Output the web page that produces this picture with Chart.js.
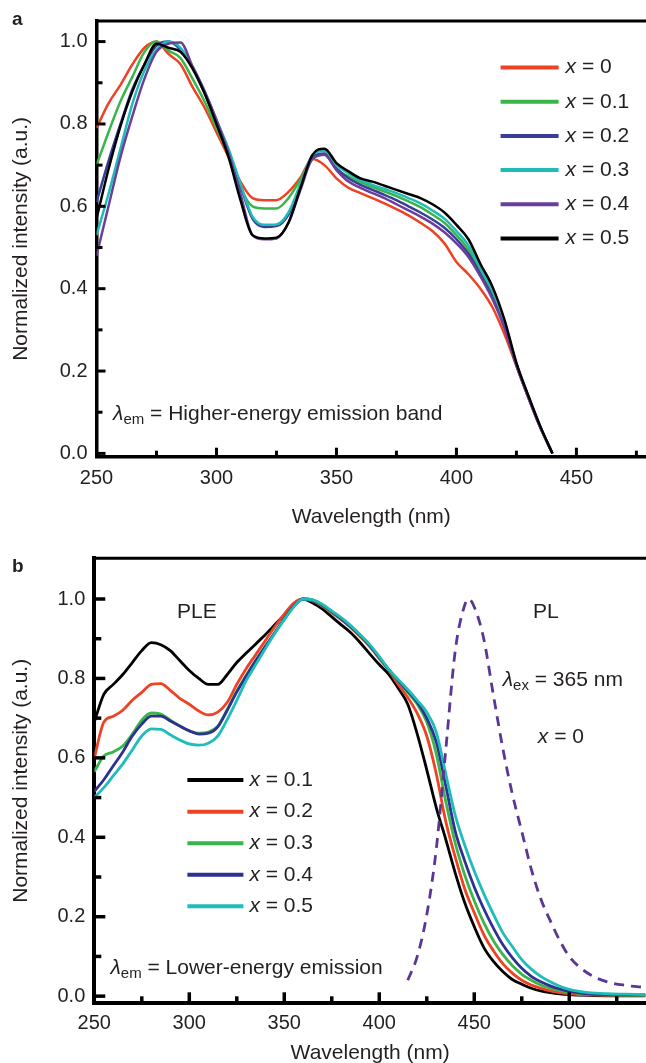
<!DOCTYPE html>
<html lang="en">
<head>
<meta charset="UTF-8">
<title>Normalized PLE spectra</title>
<script src="https://cdn.jsdelivr.net/npm/chart.js@4.4.1/dist/chart.umd.min.js"></script>
<style>
    html, body { margin: 0; padding: 0; background: #fff; overflow: hidden; }
    .panel { position: absolute; left: 0; width: 646px; }
    #panelA { top: 0; height: 535px; }
    #panelB { top: 530px; height: 545px; }
</style>
</head>
<body>
<div class="panel" id="panelA"><canvas id="chartA"></canvas></div>
<div class="panel" id="panelB"><canvas id="chartB"></canvas></div>

<script>
// ---- panel a : excitation spectra, higher-energy emission band ----
const wavelengthA = [250, 255, 260, 265, 270, 275, 280, 285, 290, 295, 300, 305, 310, 315, 320, 325, 330, 335, 340, 345,
    350, 355, 360, 365, 370, 375, 380, 385, 390, 395, 400, 405, 410, 415, 420, 425, 430, 435, 440];
const labelsA = ['x = 0', 'x = 0.1', 'x = 0.2', 'x = 0.3', 'x = 0.4', 'x = 0.5'];
const pleA_x0 = [0.79, 0.85, 0.895, 0.945, 0.985, 1.0, 0.97, 0.945, 0.89, 0.84, 0.78,
    0.72, 0.66, 0.62, 0.615, 0.615, 0.635, 0.67, 0.715, 0.70, 0.668,
    0.645, 0.632, 0.62, 0.607, 0.593, 0.578, 0.56, 0.54, 0.51, 0.465,
    0.435, 0.40, 0.355, 0.29, 0.212, 0.135, 0.062, 0.0];
const pleA_x01 = [0.70, 0.78, 0.855, 0.915, 0.975, 1.0, 0.978, 0.96, 0.91, 0.855, 0.79,
    0.725, 0.645, 0.60, 0.595, 0.595, 0.62, 0.665, 0.715, 0.725, 0.69,
    0.672, 0.658, 0.647, 0.636, 0.625, 0.612, 0.598, 0.58, 0.56, 0.53,
    0.495, 0.44, 0.385, 0.315, 0.216, 0.137, 0.063, 0.0];
const pleA_x02 = [0.61, 0.71, 0.80, 0.885, 0.945, 0.99, 1.0, 0.98, 0.935, 0.875, 0.805,
    0.735, 0.65, 0.57, 0.55, 0.552, 0.58, 0.65, 0.72, 0.728, 0.692,
    0.668, 0.652, 0.64, 0.628, 0.615, 0.60, 0.585, 0.568, 0.548, 0.52,
    0.485, 0.435, 0.38, 0.31, 0.215, 0.136, 0.063, 0.0];
const pleA_x03 = [0.53, 0.63, 0.74, 0.85, 0.93, 0.98, 1.0, 0.985, 0.94, 0.88, 0.81,
    0.74, 0.655, 0.575, 0.555, 0.556, 0.585, 0.655, 0.725, 0.735, 0.70,
    0.68, 0.663, 0.652, 0.642, 0.632, 0.62, 0.607, 0.59, 0.57, 0.54,
    0.505, 0.45, 0.395, 0.32, 0.218, 0.138, 0.064, 0.0];
const pleA_x04 = [0.48, 0.60, 0.72, 0.82, 0.91, 0.975, 0.995, 0.998, 0.94, 0.88, 0.81,
    0.73, 0.63, 0.53, 0.52, 0.522, 0.56, 0.64, 0.715, 0.725, 0.688,
    0.66, 0.645, 0.632, 0.62, 0.605, 0.59, 0.575, 0.558, 0.537, 0.51,
    0.477, 0.43, 0.375, 0.305, 0.213, 0.135, 0.062, 0.0];
const pleA_x05 = [0.57, 0.69, 0.795, 0.88, 0.945, 0.995, 0.985, 0.975, 0.935, 0.875, 0.80,
    0.72, 0.615, 0.53, 0.522, 0.524, 0.56, 0.645, 0.725, 0.74, 0.705,
    0.685, 0.668, 0.66, 0.65, 0.64, 0.63, 0.62, 0.605, 0.585, 0.555,
    0.52, 0.46, 0.405, 0.325, 0.22, 0.14, 0.065, 0.0];

// ---- panel b : PLE (lower-energy emission) and PL of x = 0 ----
const wavelengthB = [250, 255, 260, 265, 270, 275, 280, 285, 290, 295, 300, 305, 310, 315, 320, 325, 330, 335, 340, 345,
    350, 355, 360, 365, 370, 375, 380, 385, 390, 395, 400, 405, 410, 415, 420, 425, 430, 435, 440, 445,
    450, 455, 460, 465, 470, 475, 480, 485, 490, 495, 500, 510, 520, 530, 540];
const labelsB = ['x = 0.1', 'x = 0.2', 'x = 0.3', 'x = 0.4', 'x = 0.5'];
const pleB_x01 = [0.69, 0.76, 0.785, 0.81, 0.84, 0.87, 0.89, 0.885, 0.87, 0.845, 0.82,
    0.80, 0.785, 0.785, 0.81, 0.84, 0.864, 0.887, 0.91, 0.935, 0.96,
    0.985, 1.0, 0.99, 0.975, 0.955, 0.935, 0.915, 0.89, 0.862, 0.835,
    0.81, 0.775, 0.735, 0.66, 0.57, 0.475, 0.395, 0.31, 0.235, 0.175,
    0.123, 0.088, 0.062, 0.042, 0.03, 0.02, 0.013, 0.009, 0.006, 0.004,
    0.002, 0.001, 0.001, 0.001];
const pleB_x02 = [0.60, 0.69, 0.705, 0.72, 0.745, 0.765, 0.785, 0.787, 0.77, 0.75, 0.735,
    0.718, 0.708, 0.715, 0.74, 0.785, 0.825, 0.86, 0.895, 0.93, 0.962,
    0.99, 1.0, 0.995, 0.982, 0.965, 0.948, 0.928, 0.905, 0.88, 0.85,
    0.82, 0.785, 0.752, 0.712, 0.655, 0.56, 0.44, 0.35, 0.27, 0.21,
    0.155, 0.115, 0.082, 0.058, 0.04, 0.028, 0.02, 0.013, 0.009, 0.006,
    0.003, 0.002, 0.002, 0.002];
const pleB_x03 = [0.565, 0.605, 0.615, 0.63, 0.66, 0.695, 0.713, 0.71, 0.695, 0.68, 0.668,
    0.662, 0.665, 0.68, 0.722, 0.768, 0.808, 0.845, 0.88, 0.915, 0.95,
    0.982, 1.0, 0.997, 0.984, 0.967, 0.95, 0.93, 0.907, 0.882, 0.852,
    0.822, 0.793, 0.765, 0.735, 0.69, 0.61, 0.49, 0.385, 0.305, 0.24,
    0.185, 0.14, 0.105, 0.077, 0.055, 0.04, 0.028, 0.02, 0.014, 0.01,
    0.005, 0.003, 0.002, 0.002];
const pleB_x04 = [0.515, 0.545, 0.58, 0.615, 0.655, 0.685, 0.705, 0.705, 0.693, 0.68, 0.668,
    0.66, 0.662, 0.678, 0.72, 0.766, 0.806, 0.845, 0.88, 0.915, 0.95,
    0.982, 1.0, 0.997, 0.985, 0.968, 0.95, 0.93, 0.908, 0.883, 0.853,
    0.822, 0.795, 0.768, 0.74, 0.70, 0.64, 0.53, 0.415, 0.34, 0.275,
    0.22, 0.172, 0.13, 0.097, 0.07, 0.05, 0.036, 0.026, 0.018, 0.012,
    0.006, 0.004, 0.003, 0.003];
const pleB_x05 = [0.50, 0.525, 0.555, 0.585, 0.62, 0.655, 0.673, 0.672, 0.658, 0.645, 0.635,
    0.632, 0.637, 0.655, 0.697, 0.745, 0.795, 0.835, 0.875, 0.913, 0.948,
    0.98, 1.0, 0.998, 0.987, 0.97, 0.953, 0.933, 0.91, 0.885, 0.855,
    0.823, 0.797, 0.772, 0.745, 0.715, 0.665, 0.56, 0.455, 0.38, 0.315,
    0.258, 0.207, 0.16, 0.125, 0.092, 0.068, 0.05, 0.036, 0.025, 0.017,
    0.009, 0.006, 0.005, 0.004];
const wavelengthPL = [415, 420, 425, 430, 435, 440, 445, 447, 450, 455, 460, 465, 470, 475, 480, 485, 490, 495, 500, 510, 520, 530, 540];
const plB_x0 = [0.04, 0.10, 0.205, 0.37, 0.62, 0.87, 0.985, 1.0, 0.98, 0.9, 0.76, 0.625, 0.51, 0.415, 0.32, 0.245, 0.19, 0.14, 0.10, 0.057, 0.036, 0.027, 0.022];

// axis ticks
const xTicksA = [250, 300, 350, 400, 450];
const xMinorA = [275, 325, 375, 425, 475];
const xTicksB = [250, 300, 350, 400, 450, 500];
const xMinorB = [275, 325, 375, 425, 475, 525];
const yTicks = [0, 0.2, 0.4, 0.6, 0.8, 1.0];
const yMinor = [0.1, 0.3, 0.5, 0.7, 0.9];

const ink = '#231f20';
const fontFamily = '"Liberation Sans", Arial, Helvetica, sans-serif';

function points(xs, ys) {
    return xs.map((x, i) => ({ x: x, y: ys[i] }));
}

function line(label, xs, ys, color, order, width, dash) {
    return {
        label: label,
        data: points(xs, ys),
        borderColor: color,
        borderWidth: width,
        borderDash: dash || [],
        pointRadius: 0,
        cubicInterpolationMode: 'monotone',
        fill: false,
        order: order
    };
}

// text with italic / subscript pieces, y is the vertical middle
function drawRich(ctx, x, y, parts, align) {
    const fonts = {
        n: '21px ' + fontFamily,
        i: 'italic 21px ' + fontFamily,
        sub: '15px ' + fontFamily
    };
    let total = 0;
    parts.forEach(p => {
        ctx.font = fonts[p.s || 'n'];
        p.w = ctx.measureText(p.t).width;
        total += p.w;
    });
    let cx = align === 'center' ? x - total / 2 : x;
    ctx.textAlign = 'left';
    ctx.textBaseline = 'middle';
    ctx.fillStyle = ink;
    parts.forEach(p => {
        ctx.font = fonts[p.s || 'n'];
        ctx.fillText(p.t, cx, p.s === 'sub' ? y + 6 : y);
        cx += p.w;
    });
}

// frame top line, inward ticks, legend, notes and the panel letter
const decorPlugin = {
    id: 'decor',
    afterDraw(chart, args, o) {
        const ctx = chart.ctx;
        const area = chart.chartArea;
        const xs = chart.scales.x;
        const ys = chart.scales.y;
        ctx.save();
        ctx.setLineDash([]);
        ctx.strokeStyle = '#000';
        ctx.lineCap = 'butt';

        ctx.lineWidth = o.frameWidth;
        ctx.beginPath();
        ctx.moveTo(area.left - o.frameWidth / 2, area.top);
        ctx.lineTo(area.right, area.top);
        ctx.stroke();

        ctx.lineWidth = o.tickWidth;
        const tickX = (v, len) => {
            const px = xs.getPixelForValue(v);
            ctx.beginPath();
            ctx.moveTo(px, area.bottom);
            ctx.lineTo(px, area.bottom - len);
            ctx.stroke();
        };
        const tickY = (v, len) => {
            const py = ys.getPixelForValue(v);
            ctx.beginPath();
            ctx.moveTo(area.left, py);
            ctx.lineTo(area.left + len, py);
            ctx.stroke();
        };
        o.xMajor.forEach(v => tickX(v, o.majorLen));
        o.xMinor.forEach(v => tickX(v, o.minorLen));
        yTicks.forEach(v => tickY(v, o.majorLen));
        yMinor.forEach(v => tickY(v, o.minorLen));

        // legend
        const lg = o.legend;
        lg.items.forEach((di, k) => {
            const ds = chart.data.datasets[di];
            const px = xs.getPixelForValue(lg.x);
            const py = ys.getPixelForValue(lg.y - k * lg.step);
            ctx.strokeStyle = ds.borderColor;
            ctx.lineWidth = 4;
            ctx.beginPath();
            ctx.moveTo(px, py);
            ctx.lineTo(px + lg.len, py);
            ctx.stroke();
            drawRich(ctx, px + lg.len + lg.gap, py, [{ t: ds.label.charAt(0), s: 'i' }, { t: ds.label.slice(1) }], 'left');
        });

        // notes
        o.notes.forEach(n => {
            drawRich(ctx, xs.getPixelForValue(n.x), ys.getPixelForValue(n.y), n.parts, n.align);
        });

        // panel letter
        ctx.font = 'bold 19px ' + fontFamily;
        ctx.fillStyle = ink;
        ctx.textAlign = 'left';
        ctx.textBaseline = 'alphabetic';
        ctx.fillText(o.letter.t, o.letter.x, o.letter.y);
        ctx.restore();
    }
};

function makeScales(p) {
    return {
        x: {
            type: 'linear',
            min: p.xMin,
            max: p.xMax,
            grid: { display: false, drawTicks: false },
            border: { display: true, color: '#000', width: p.axisWidth },
            ticks: {
                color: ink,
                font: { family: fontFamily, size: 20 },
                padding: p.xTickPad,
                maxRotation: 0,
                autoSkip: false,
                callback: v => String(v)
            },
            title: {
                display: true,
                text: 'Wavelength (nm)',
                color: ink,
                font: { family: fontFamily, size: 21 },
                padding: { top: 0, bottom: p.xTitlePad }
            },
            afterBuildTicks: s => { s.ticks = p.xTicks.map(v => ({ value: v })); },
            afterFit: s => { s.height = p.xAxisHeight; }
        },
        y: {
            type: 'linear',
            min: p.yMin,
            max: p.yMax,
            grid: { display: false, drawTicks: false },
            border: { display: true, color: '#000', width: p.axisWidth },
            ticks: {
                color: ink,
                font: { family: fontFamily, size: 20 },
                padding: 9,
                callback: v => v.toFixed(1)
            },
            title: {
                display: true,
                text: 'Normalized intensity (a.u.)',
                color: ink,
                font: { family: fontFamily, size: 21 },
                padding: { top: 9, bottom: 0 }
            },
            afterBuildTicks: s => { s.ticks = yTicks.map(v => ({ value: v })); },
            afterFit: s => { s.width = p.yAxisWidth; }
        }
    };
}

// Panel a
new Chart(document.getElementById('chartA'), {
    type: 'line',
    data: {
        datasets: [
            line(labelsA[0], wavelengthA, pleA_x0, '#ef4123', 5, 2.5),
            line(labelsA[1], wavelengthA, pleA_x01, '#39b54a', 4, 2.5),
            line(labelsA[2], wavelengthA, pleA_x02, '#3a3e99', 3, 2.5),
            line(labelsA[3], wavelengthA, pleA_x03, '#1fbcb6', 2, 2.5),
            line(labelsA[4], wavelengthA, pleA_x04, '#6a3f9b', 1, 2.5),
            line(labelsA[5], wavelengthA, pleA_x05, '#000000', 0, 2.5)
        ]
    },
    options: {
        responsive: true,
        maintainAspectRatio: false,
        animation: false,
        layout: { padding: { top: 13.3, right: 0, bottom: 0, left: 0 } },
        scales: makeScales({
            xMin: 250, xMax: 479, yMin: -0.008, yMax: 1.05,
            xTicks: xTicksA, axisWidth: 3.5, xTickPad: 10, xTitlePad: 5.4,
            xAxisHeight: 78.3, yAxisWidth: 96.5
        }),
        plugins: {
            legend: { display: false },
            tooltip: { enabled: false },
            decor: {
                frameWidth: 3, tickWidth: 3, majorLen: 9, minorLen: 6,
                xMajor: xTicksA, xMinor: xMinorA,
                legend: { x: 418.4, y: 0.937, step: 0.083, len: 58, gap: 7, items: [0, 1, 2, 3, 4, 5] },
                notes: [
                    { x: 256.9, y: 0.096, align: 'left', parts: [{ t: '\u03bb', s: 'i' }, { t: 'em', s: 'sub' }, { t: ' = Higher-energy emission band' }] }
                ],
                letter: { t: 'a', x: 12, y: 25 }
            }
        }
    },
    plugins: [decorPlugin]
});

// Panel b
new Chart(document.getElementById('chartB'), {
    type: 'line',
    data: {
        datasets: [
            line(labelsB[0], wavelengthB, pleB_x01, '#000000', 5, 2.8),
            line(labelsB[1], wavelengthB, pleB_x02, '#ef4123', 4, 2.8),
            line(labelsB[2], wavelengthB, pleB_x03, '#39b54a', 3, 2.8),
            line(labelsB[3], wavelengthB, pleB_x04, '#2e3192', 2, 2.8),
            line(labelsB[4], wavelengthB, pleB_x05, '#1ebdb9', 1, 2.8),
            line('x = 0', wavelengthPL, plB_x0, '#5b3694', 0, 2.8, [10, 7])
        ]
    },
    options: {
        responsive: true,
        maintainAspectRatio: false,
        animation: false,
        layout: { padding: { top: 28.3, right: 0, bottom: 0, left: 0 } },
        scales: makeScales({
            xMin: 250, xMax: 540.4, yMin: -0.018, yMax: 1.1025,
            xTicks: xTicksB, axisWidth: 4, xTickPad: 8, xTitlePad: 9.4,
            xAxisHeight: 71.7, yAxisWidth: 94.3
        }),
        plugins: {
            legend: { display: false },
            tooltip: { enabled: false },
            decor: {
                frameWidth: 3, tickWidth: 3.5, majorLen: 11, minorLen: 7,
                xMajor: xTicksB, xMinor: xMinorB,
                legend: { x: 299, y: 0.544, step: 0.0794, len: 56, gap: 6, items: [0, 1, 2, 3, 4] },
                notes: [
                    { x: 304, y: 0.967, align: 'center', parts: [{ t: 'PLE' }] },
                    { x: 487.7, y: 0.967, align: 'center', parts: [{ t: 'PL' }] },
                    { x: 465, y: 0.796, align: 'left', parts: [{ t: '\u03bb', s: 'i' }, { t: 'ex', s: 'sub' }, { t: ' = 365 nm' }] },
                    { x: 495.6, y: 0.652, align: 'center', parts: [{ t: 'x', s: 'i' }, { t: ' = 0' }] },
                    { x: 258.5, y: 0.07, align: 'left', parts: [{ t: '\u03bb', s: 'i' }, { t: 'em', s: 'sub' }, { t: ' = Lower-energy emission' }] }
                ],
                letter: { t: 'b', x: 12, y: 42 }
            }
        }
    },
    plugins: [decorPlugin]
});
</script>
</body>
</html>
